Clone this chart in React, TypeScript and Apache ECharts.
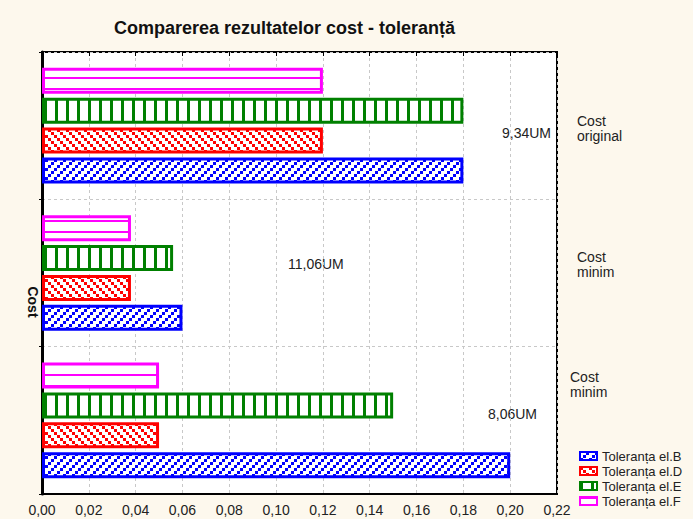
import React, { useEffect, useRef } from "react";
import * as echarts from "echarts";

const categories = ["Cost\noriginal", "Cost\nminim", "Cost\nminim"];
const seriesNames = ["Toleranța el.B", "Toleranța el.D", "Toleranța el.E", "Toleranța el.F"];
const valuesB = [0.18, 0.06, 0.2];
const valuesD = [0.12, 0.038, 0.05];
const valuesE = [0.18, 0.056, 0.15];
const valuesF = [0.12, 0.038, 0.05];
const annotations = ["9,34UM", "11,06UM", "8,06UM"];
const xMin = 0;
const xMax = 0.22;
const xStep = 0.02;

const FONT = "'Liberation Sans', Arial, sans-serif";

function makePattern(kind: string, color: string) {
  const c = document.createElement("canvas");
  let w = 9, h = 9;
  if (kind === "v") { w = 11; h = 4; }
  if (kind === "h") { w = 4; h = 11; }
  c.width = w; c.height = h;
  const ctx = c.getContext("2d")!;
  ctx.fillStyle = "#ffffff";
  ctx.fillRect(0, 0, w, h);
  ctx.fillStyle = color;
  if (kind === "slash") {
    ctx.fillRect(6, 0, 3, 3); ctx.fillRect(3, 3, 3, 3); ctx.fillRect(0, 6, 3, 3);
  } else if (kind === "back") {
    ctx.fillRect(0, 0, 3, 3); ctx.fillRect(3, 3, 3, 3); ctx.fillRect(6, 6, 3, 3);
  } else if (kind === "v") {
    ctx.fillRect(0, 0, 3, h);
  } else {
    ctx.fillRect(0, 0, w, 2);
  }
  return { image: c.toDataURL(), repeat: "repeat", imageWidth: w, imageHeight: h } as any;
}

export default function App() {
  const ref = useRef<HTMLDivElement>(null);
  useEffect(() => {
    document.body.style.margin = "0";
    const chart = echarts.init(ref.current!, null, { renderer: "svg" });
    const colors = ["#0000ff", "#ff0000", "#008000", "#ff00ff"];
    const kinds = ["slash", "back", "v", "h"];
    const vals = [valuesB, valuesD, valuesE, valuesF];
    const series = seriesNames
      .map((name, i) => ({
        name,
        type: "bar",
        yAxisIndex: 0,
        data: vals[i],
        barWidth: 26,
        barGap: "15%",
        itemStyle: {
          color: makePattern(kinds[i], colors[i]),
          borderColor: colors[i],
          borderWidth: 3,
        },
      }))
      .reverse();
    const labelPos = [
      { left: 577, top: 113 },
      { left: 577, top: 249 },
      { left: 570, top: 369 },
    ];
    const annPos = [
      { left: 502, top: 126 },
      { left: 288, top: 257 },
      { left: 488, top: 407 },
    ];
    chart.setOption({
      animation: false,
      backgroundColor: "#fdf8ed",
      title: {
        text: "Comparerea rezultatelor cost - toleranță",
        left: 109,
        top: 14,
        textStyle: { fontFamily: FONT, fontSize: 18, fontWeight: "bold", color: "#111" },
      },
      legend: {
        orient: "vertical",
        left: 579,
        top: 449,
        padding: 0,
        itemWidth: 17,
        itemHeight: 8,
        itemGap: 1,
        icon: "rect",
        itemStyle: { borderWidth: 2 },
        textStyle: { fontFamily: FONT, fontSize: 13, color: "#222", lineHeight: 14 },
        data: seriesNames,
      },
      grid: {
        left: 42, right: 136, top: 52, bottom: 25,
        show: true, backgroundColor: "#ffffff", borderColor: "#000", borderWidth: 2,
      },
      xAxis: [
        {
          type: "value", min: xMin, max: xMax, interval: xStep, position: "bottom",
          axisLine: { show: true, lineStyle: { color: "#000", width: 2 } },
          axisTick: { show: false },
          axisLabel: {
            formatter: (v: number) => v.toFixed(2).replace(".", ","),
            fontFamily: FONT, fontSize: 14, color: "#222", margin: 9,
          },
          splitLine: { show: true, lineStyle: { color: "#c8c8c8", type: [3, 3], width: 1 } },
        },
        {
          type: "value", min: xMin, max: xMax, interval: xStep, position: "top",
          axisLine: { show: false },
          axisTick: { show: true, inside: true, length: 4, lineStyle: { color: "#000" } },
          axisLabel: { show: false },
          splitLine: { show: false },
        },
      ],
      yAxis: [
        {
          type: "category", inverse: true, position: "left", data: categories,
          axisLine: { show: true, lineStyle: { color: "#000", width: 3 } },
          axisTick: { show: false },
          axisLabel: { show: false },
          splitLine: { show: true, lineStyle: { color: "#c8c8c8", type: [3, 3], width: 1 } },
        },
        {
          type: "category", inverse: true, position: "right", data: categories,
          axisLine: { show: false },
          axisTick: { show: true, inside: true, length: 3, lineStyle: { color: "#000" } },
          axisLabel: { show: false },
          splitLine: { show: false },
        },
      ],
      graphic: [
        ...categories.map((c, i) => ({
          type: "text", left: labelPos[i].left, top: labelPos[i].top,
          style: { text: c, font: `14px ${FONT}`, fill: "#222", lineHeight: 15 },
        })),
        ...annotations.map((t, i) => ({
          type: "text", left: annPos[i].left, top: annPos[i].top,
          style: { text: t, font: `14px ${FONT}`, fill: "#222" },
        })),
        {
          type: "text", x: 33, y: 302, rotation: -Math.PI / 2,
          style: { text: "Cost", font: `bold 14px ${FONT}`, fill: "#111", align: "center", verticalAlign: "middle" },
        },
      ],
      series,
    });
    return () => chart.dispose();
  }, []);
  return <div ref={ref} style={{ position: "absolute", left: 0, top: 0, width: 693, height: 519 }} />;
}
